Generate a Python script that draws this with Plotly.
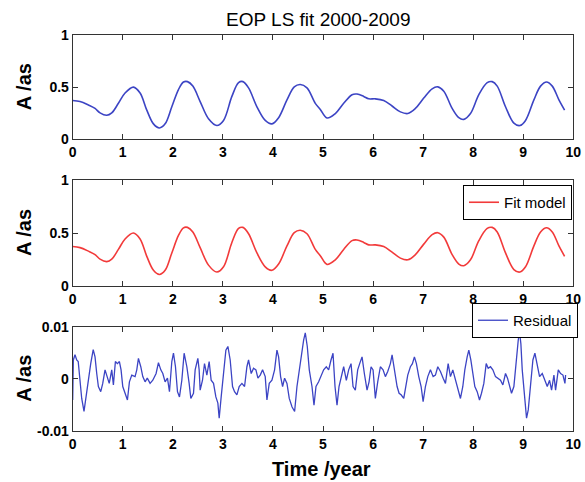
import plotly.graph_objects as go

# Smoothed EOP amplitude series (years since 2000, arcsec)
eop_t = [0.0, 0.146, 0.313, 0.446, 0.546, 0.68, 0.78, 0.913, 1.046, 1.213, 1.346, 1.48,
         1.613, 1.733, 1.846, 1.98, 2.113, 2.213, 2.293, 2.40, 2.546, 2.713, 2.88, 3.013,
         3.18, 3.313, 3.40, 3.513, 3.68, 3.846, 3.98, 4.113, 4.28, 4.426, 4.546, 4.68,
         4.846, 4.946, 5.08, 5.246, 5.413, 5.58, 5.68, 5.813, 5.913, 6.046, 6.213, 6.38,
         6.546, 6.693, 6.846, 7.013, 7.18, 7.293, 7.413, 7.58, 7.713, 7.813, 7.946, 8.113,
         8.28, 8.38, 8.48, 8.646, 8.813, 8.933, 9.046, 9.213, 9.346, 9.466, 9.58, 9.713, 9.826]
eop_a = [0.372, 0.362, 0.329, 0.296, 0.253, 0.230, 0.253, 0.345, 0.444, 0.500, 0.444, 0.280,
         0.148, 0.109, 0.148, 0.312, 0.477, 0.549, 0.553, 0.510, 0.362, 0.197, 0.132, 0.181,
         0.411, 0.543, 0.553, 0.493, 0.312, 0.181, 0.148, 0.207, 0.378, 0.503, 0.526, 0.493,
         0.345, 0.286, 0.204, 0.247, 0.345, 0.428, 0.434, 0.411, 0.388, 0.388, 0.372, 0.319,
         0.263, 0.247, 0.296, 0.395, 0.484, 0.503, 0.461, 0.296, 0.207, 0.191, 0.247, 0.428,
         0.543, 0.553, 0.510, 0.312, 0.155, 0.132, 0.181, 0.378, 0.510, 0.549, 0.510, 0.378, 0.280]

# Least-squares fit model (same sampling)
fit_t = eop_t
fit_a = eop_a

# Residual = observation - fit model (arcsec)
res_t = [0.00, 0.013, 0.046, 0.08, 0.11, 0.146, 0.18, 0.226, 0.266, 0.31, 0.36, 0.41, 0.446,
         0.48, 0.513, 0.56, 0.60, 0.646, 0.69, 0.73, 0.78, 0.813, 0.853, 0.893, 0.933, 0.966,
         1.00, 1.046, 1.093, 1.133, 1.18, 1.246, 1.28, 1.313, 1.36, 1.40, 1.446, 1.49, 1.546,
         1.60, 1.666, 1.713, 1.76, 1.80, 1.846, 1.893, 1.933, 1.98, 2.013, 2.053, 2.093, 2.133,
         2.18, 2.226, 2.28, 2.326, 2.36, 2.413, 2.446, 2.50, 2.526, 2.546, 2.593, 2.633, 2.68,
         2.726, 2.766, 2.813, 2.86, 2.90, 2.926, 2.966, 3.013, 3.06, 3.10, 3.146, 3.193, 3.233,
         3.28, 3.326, 3.38, 3.433, 3.48, 3.513, 3.566, 3.613, 3.66, 3.70, 3.746, 3.793, 3.846,
         3.88, 3.926, 3.98, 4.033, 4.08, 4.113, 4.153, 4.193, 4.233, 4.28, 4.326, 4.38, 4.433,
         4.48, 4.526, 4.566, 4.613, 4.646, 4.686, 4.726, 4.78, 4.82, 4.86, 4.913, 4.966, 5.013,
         5.066, 5.113, 5.16, 5.20, 5.24, 5.28, 5.32, 5.36, 5.413, 5.466, 5.513, 5.56, 5.60,
         5.646, 5.693, 5.733, 5.78, 5.826, 5.88, 5.92, 5.96, 6.00, 6.046, 6.093, 6.146, 6.20,
         6.246, 6.293, 6.346, 6.38, 6.426, 6.48, 6.52, 6.56, 6.613, 6.653, 6.693, 6.746, 6.786,
         6.826, 6.866, 6.913, 6.96, 7.00, 7.046, 7.093, 7.146, 7.20, 7.246, 7.293, 7.346, 7.40,
         7.446, 7.50, 7.546, 7.593, 7.646, 7.70, 7.746, 7.793, 7.833, 7.88, 7.913, 7.953, 7.993,
         8.033, 8.08, 8.126, 8.166, 8.213, 8.26, 8.30, 8.346, 8.393, 8.446, 8.50, 8.546, 8.593,
         8.646, 8.686, 8.726, 8.766, 8.813, 8.86, 8.90, 8.926, 8.953, 8.98, 9.013, 9.046, 9.066,
         9.10, 9.146, 9.193, 9.233, 9.28, 9.326, 9.38, 9.433, 9.48, 9.526, 9.566, 9.613, 9.646,
         9.70, 9.746, 9.793, 9.833, 9.846]
res_a = [-0.0041, 0.0036, 0.0046, 0.0036, 0.0033, -0.0006, -0.0038, -0.0063, -0.0035, -0.0003,
         0.0029, 0.0056, 0.0042, 0.0010, -0.0015, -0.0025, -0.0009, 0.0017, 0.0001, -0.0009,
         0.0017, -0.0012, 0.0033, 0.0029, 0.0033, 0.0017, -0.0015, -0.0028, -0.0041, -0.0006,
         0.0007, 0.0004, 0.0017, 0.0039, 0.0023, 0.0004, -0.0006, 0.0001, -0.0009, -0.0003,
         0.0010, 0.0031, 0.0017, 0.0010, -0.0006, 0.0001, -0.0025, 0.0033, 0.0049, 0.0023,
         -0.0025, -0.0035, -0.0003, 0.0049, 0.0023, -0.0009, -0.0038, -0.0028, 0.0017, 0.0039,
         0.0017, -0.0022, -0.0003, 0.0029, 0.0007, 0.0033, -0.0003, -0.0009, -0.0035, -0.0047,
         -0.0076, -0.0035, 0.0017, 0.0055, 0.0062, 0.0036, -0.0015, -0.0025, -0.0031, -0.0015,
         -0.0009, -0.0015, 0.0023, 0.0036, 0.0010, 0.0020, 0.0017, 0.0001, 0.0007, 0.0017,
         0.0004, -0.0041, -0.0009, -0.0003, 0.0017, 0.0055, 0.0042, 0.0004, -0.0015, 0.0001,
         -0.0009, -0.0038, -0.0054, -0.0063, -0.0015, 0.0017, 0.0036, 0.0074, 0.0088, 0.0062,
         0.0017, -0.0015, -0.0051, -0.0015, -0.0006, 0.0007, 0.0017, 0.0023, 0.0017, 0.0036,
         0.0049, -0.0015, -0.0051, -0.0015, 0.0004, 0.0023, -0.0003, 0.0017, 0.0029, -0.0015,
         -0.0022, 0.0017, 0.0029, 0.0042, 0.0010, -0.0022, -0.0006, 0.0023, 0.0017, -0.0038,
         -0.0006, 0.0023, 0.0017, 0.0004, 0.0014, 0.0029, 0.0046, 0.0017, -0.0015, -0.0028,
         -0.0031, -0.0038, -0.0015, 0.0007, 0.0023, 0.0029, 0.0042, 0.0029, 0.0004, -0.0015,
         -0.0044, -0.0015, 0.0004, 0.0017, 0.0004, 0.0007, 0.0023, 0.0014, 0.0001, -0.0009,
         0.0029, 0.0004, 0.0017, -0.0003, -0.0025, -0.0038, -0.0015, 0.0017, 0.0042, 0.0055,
         0.0036, 0.0010, -0.0015, -0.0025, -0.0041, -0.0028, -0.0009, 0.0029, 0.0020, 0.0023,
         0.0017, 0.0004, 0.0001, -0.0003, -0.0012, 0.0010, 0.0001, -0.0015, -0.0028, -0.0015,
         0.0036, 0.0074, 0.0090, 0.0067, 0.0017, -0.0015, -0.0054, -0.0076, -0.0060, -0.0009,
         0.0036, 0.0049, 0.0023, 0.0004, 0.0010, -0.0003, -0.0015, -0.0003, -0.0022, 0.0007,
         -0.0022, 0.0017, 0.0010, 0.0007, -0.0009, 0.0007]

# Axis ticks
x_ticks = [0, 1, 2, 3, 4, 5, 6, 7, 8, 9, 10]
x_ticktext = ["0", "1", "2", "3", "4", "5", "6", "7", "8", "9", "10"]
amp_ticks = [0, 0.5, 1]
amp_ticktext = ["0", "0.5", "1"]
res_ticks = [-0.01, 0, 0.01]
res_ticktext = ["-0.01", "0", "0.01"]

TITLE = "EOP LS fit 2000-2009"
YLABEL = "A /as"
XLABEL = "Time /year"

W, H = 585, 482
FONT = "Liberation Sans, Arial, sans-serif"
BLUE = "#3c44c4"
RED = "#f23a3a"

fig = go.Figure()
fig.add_trace(go.Scatter(x=eop_t, y=eop_a, mode="lines", line=dict(color=BLUE, width=1.6, shape="spline"),
                         showlegend=False, xaxis="x", yaxis="y"))
fig.add_trace(go.Scatter(x=fit_t, y=fit_a, mode="lines", name="Fit model",
                         line=dict(color=RED, width=1.6, shape="spline"),
                         xaxis="x2", yaxis="y2", legend="legend"))
fig.add_trace(go.Scatter(x=res_t, y=res_a, mode="lines", name="Residual",
                         line=dict(color=BLUE, width=1.3),
                         xaxis="x3", yaxis="y3", legend="legend2"))

x0, x1 = 72.7 / W, 573.3 / W
def ydom(top_px, bot_px):
    return [(H - bot_px) / H, (H - top_px) / H]

axis_common = dict(showline=True, linecolor="#333333", linewidth=1, mirror="ticks",
                   ticks="inside", ticklen=5, tickcolor="#333333", showgrid=False, zeroline=False,
                   automargin=False,
                   tickfont=dict(family=FONT, size=14, color="black", weight="bold"))

layout = dict(width=W, height=H, margin=dict(l=0, r=0, t=0, b=0, autoexpand=False),
              plot_bgcolor="white", paper_bgcolor="white", showlegend=True)

doms = [ydom(35, 139.3), ydom(180, 286), ydom(326.7, 430.7)]
yr = [[0, 1], [0, 1], [-0.01, 0.01]]
ytv = [amp_ticks, amp_ticks, res_ticks]
ytt = [amp_ticktext, amp_ticktext, res_ticktext]
for i in range(3):
    sx = "" if i == 0 else str(i + 1)
    layout["xaxis" + sx] = dict(axis_common, domain=[x0, x1], range=[0, 10], anchor="y" + sx,
                                tickvals=x_ticks, ticktext=x_ticktext)
    layout["yaxis" + sx] = dict(axis_common, domain=doms[i], range=yr[i], anchor="x" + sx,
                                tickvals=ytv[i], ticktext=ytt[i])

layout["legend"] = dict(x=572 / W, y=(H - 185) / H, xanchor="right", yanchor="top",
                        bgcolor="white", bordercolor="black", borderwidth=1,
                        font=dict(family=FONT, size=15, color="black"))
layout["legend2"] = dict(x=578 / W, y=(H - 303) / H, xanchor="right", yanchor="top",
                         bgcolor="white", bordercolor="black", borderwidth=1,
                         font=dict(family=FONT, size=15, color="black"))

annotations = [dict(text=TITLE, x=318 / W, y=(H - 20) / H, xref="paper", yref="paper",
                    xanchor="center", yanchor="middle",
                    showarrow=False, font=dict(family=FONT, size=19, color="black")),
               dict(text=XLABEL, x=321 / W, y=(H - 469) / H, xref="paper", yref="paper",
                    xanchor="center", yanchor="middle",
                    showarrow=False, font=dict(family=FONT, size=20, color="black", weight="bold"))]
for top_px, bot_px in [(35, 139.3), (180, 286), (326.7, 430.7)]:
    annotations.append(dict(text=YLABEL, x=24 / W, y=(H - (top_px + bot_px) / 2) / H,
                            xref="paper", yref="paper", showarrow=False, textangle=-90,
                            xanchor="center", yanchor="middle",
                            font=dict(family=FONT, size=20, color="black", weight="bold")))
layout["annotations"] = annotations

fig.update_layout(layout)
fig.write_html("out.html")
